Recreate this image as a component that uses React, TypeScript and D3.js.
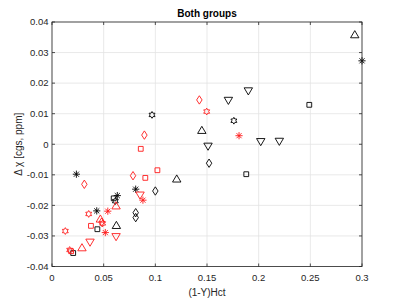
import React from "react";
import * as d3 from "d3";

// ---- data ----
const xTicks = [0, 0.05, 0.1, 0.15, 0.2, 0.25, 0.3];
const xTickLabels = ["0", "0.05", "0.1", "0.15", "0.2", "0.25", "0.3"];
const yTicks = [-0.04, -0.03, -0.02, -0.01, 0, 0.01, 0.02, 0.03, 0.04];
const yTickLabels = ["-0.04", "-0.03", "-0.02", "-0.01", "0", "0.01", "0.02", "0.03", "0.04"];

// black series
const blackSquare: [number, number][] = [[0.249, 0.0129], [0.188, -0.0098], [0.0597, -0.0177], [0.0439, -0.0278], [0.0205, -0.0356]];
const blackDiamond: [number, number][] = [[0.152, -0.0062], [0.1, -0.0153], [0.081, -0.0224], [0.081, -0.024]];
const blackTriUp: [number, number][] = [[0.293, 0.0358], [0.145, 0.0045], [0.1207, -0.0114], [0.0623, -0.0266]];
const blackTriDown: [number, number][] = [[0.1707, 0.0144], [0.19, 0.0175], [0.151, -0.0006], [0.202, 0.0009], [0.22, 0.001]];
const blackHex: [number, number][] = [[0.0968, 0.0096], [0.176, 0.0077], [0.0613, -0.0186]];
const blackStar: [number, number][] = [[0.3, 0.0273], [0.0236, -0.0098], [0.081, -0.0147], [0.0632, -0.0168], [0.0433, -0.0218]];

// red series
const redSquare: [number, number][] = [[0.0859, -0.0015], [0.0903, -0.011], [0.102, -0.0085], [0.0377, -0.0267], [0.0185, -0.035]];
const redDiamond: [number, number][] = [[0.1426, 0.0145], [0.0894, 0.003], [0.0313, -0.0131], [0.0784, -0.0103], [0.048, -0.0255]];
const redTriUp: [number, number][] = [[0.062, -0.0202], [0.0468, -0.0245], [0.029, -0.0339]];
const redTriDown: [number, number][] = [[0.0852, -0.0166], [0.062, -0.0302], [0.0368, -0.032]];
const redHex: [number, number][] = [[0.1497, 0.0107], [0.0355, -0.0228], [0.049, -0.0259], [0.0129, -0.0284], [0.0171, -0.0346]];
const redStar: [number, number][] = [[0.181, 0.0028], [0.088, -0.0183], [0.054, -0.0219], [0.0516, -0.0289]];

const W = 400, H = 300;
const left = 52, right = 362, top = 22, bottom = 266.5;
const FONT = "'Liberation Sans', Arial, Helvetica, sans-serif";
const RED = "#ff1a1a";

function markerPath(type: string, r: number): string {
  switch (type) {
    case "s":
      return `M${-r * 0.75},${-r * 0.75}H${r * 0.75}V${r * 0.75}H${-r * 0.75}Z`;
    case "d":
      return `M0,${-r}L${r * 0.65},0L0,${r}L${-r * 0.65},0Z`;
    case "^":
      return `M0,${-r}L${r},${r * 0.7}L${-r},${r * 0.7}Z`;
    case "v":
      return `M0,${r}L${r},${-r * 0.7}L${-r},${-r * 0.7}Z`;
    case "h": {
      const pts: string[] = [];
      for (let i = 0; i < 12; i++) {
        const a = (Math.PI / 6) * i - Math.PI / 2;
        const rr = i % 2 === 0 ? r : r * 0.577;
        pts.push(`${rr * Math.cos(a)},${rr * Math.sin(a)}`);
      }
      return "M" + pts.join("L") + "Z";
    }
    case "*": {
      const k = r * 0.707;
      return `M${-r},0H${r}M0,${-r}V${r}M${-k},${-k}L${k},${k}M${-k},${k}L${k},${-k}`;
    }
  }
  return "";
}

const series = [
  { pts: blackSquare, m: "s", c: "#000", r: 3.2 },
  { pts: blackDiamond, m: "d", c: "#000", r: 4.2 },
  { pts: blackTriUp, m: "^", c: "#000", r: 4.2 },
  { pts: blackTriDown, m: "v", c: "#000", r: 4.2 },
  { pts: blackHex, m: "h", c: "#000", r: 3.4 },
  { pts: blackStar, m: "*", c: "#000", r: 3.6 },
  { pts: redSquare, m: "s", c: RED, r: 3.2 },
  { pts: redDiamond, m: "d", c: RED, r: 4.2 },
  { pts: redTriUp, m: "^", c: RED, r: 4.2 },
  { pts: redTriDown, m: "v", c: RED, r: 4.2 },
  { pts: redHex, m: "h", c: RED, r: 3.4 },
  { pts: redStar, m: "*", c: RED, r: 3.6 },
];

export default function App() {
  const x = d3.scaleLinear().domain([0, 0.3]).range([left, right]);
  const y = d3.scaleLinear().domain([-0.04, 0.04]).range([bottom, top]);
  const axisColor = "#262626";
  const gridColor = "#e3e3e3";
  return (
    <svg width={W} height={H} style={{ position: "absolute", left: 0, top: 0, background: "#fff" }}>
      <rect x={0} y={0} width={W} height={H} fill="#fff" />
      {/* grid */}
      {xTicks.map((t, i) => (
        <line key={"gx" + i} x1={x(t)} x2={x(t)} y1={top} y2={bottom} stroke={gridColor} strokeWidth={0.8} />
      ))}
      {yTicks.map((t, i) => (
        <line key={"gy" + i} x1={left} x2={right} y1={y(t)} y2={y(t)} stroke={gridColor} strokeWidth={0.8} />
      ))}
      {/* markers */}
      {series.map((s, si) =>
        s.pts.map((p, pi) => (
          <path
            key={si + "-" + pi}
            d={markerPath(s.m, s.r)}
            transform={`translate(${x(p[0])},${y(p[1])})`}
            fill="none"
            stroke={s.c}
            strokeWidth={0.9}
          />
        ))
      )}
      {/* box */}
      <rect x={left} y={top} width={right - left} height={bottom - top} fill="none" stroke={axisColor} strokeWidth={0.8} />
      {/* ticks */}
      {xTicks.map((t, i) => (
        <g key={"tx" + i}>
          <line x1={x(t)} x2={x(t)} y1={bottom} y2={bottom - 3} stroke={axisColor} strokeWidth={0.8} />
          <line x1={x(t)} x2={x(t)} y1={top} y2={top + 3} stroke={axisColor} strokeWidth={0.8} />
          <text x={x(t)} y={280.5} textAnchor="middle" fontSize={9.5} fontFamily={FONT} fill={axisColor}>
            {xTickLabels[i]}
          </text>
        </g>
      ))}
      {yTicks.map((t, i) => (
        <g key={"ty" + i}>
          <line x1={left} x2={left + 3} y1={y(t)} y2={y(t)} stroke={axisColor} strokeWidth={0.8} />
          <line x1={right} x2={right - 3} y1={y(t)} y2={y(t)} stroke={axisColor} strokeWidth={0.8} />
          <text x={48.5} y={y(t) + 3.3} textAnchor="end" fontSize={9.5} fontFamily={FONT} fill={axisColor}>
            {yTickLabels[i]}
          </text>
        </g>
      ))}
      <text x={(left + right) / 2} y={16.8} textAnchor="middle" fontSize={10} fontWeight="bold" fontFamily={FONT} fill="#000">
        Both groups
      </text>
      <text x={(left + right) / 2} y={296} textAnchor="middle" fontSize={10} fontFamily={FONT} fill={axisColor}>
        (1-Y)Hct
      </text>
      <text
        transform={`translate(22,${(top + bottom) / 2}) rotate(-90)`}
        textAnchor="middle"
        fontSize={10}
        fontFamily={FONT}
        fill={axisColor}
      >
        Δ χ [cgs, ppm]
      </text>
    </svg>
  );
}
